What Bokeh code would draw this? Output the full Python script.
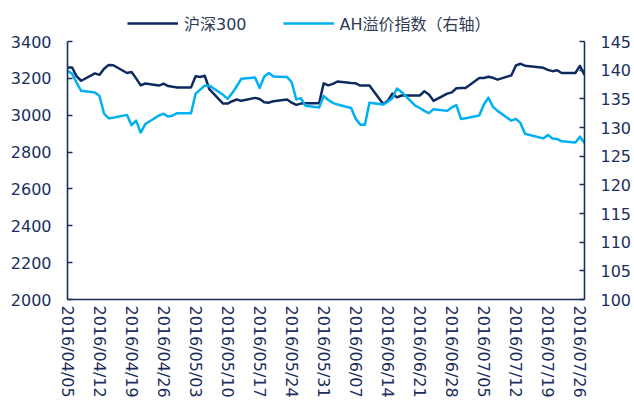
import pandas as pd
from bokeh.plotting import figure
from bokeh.models import (Range1d, LinearAxis, FixedTicker, DatetimeTickFormatter,
                          Legend, LegendItem, ColumnDataSource)
from bokeh.embed import file_html
from bokeh.resources import INLINE

dates = [
    "2016-04-05", "2016-04-06", "2016-04-07", "2016-04-08", "2016-04-11", "2016-04-12", "2016-04-13",
    "2016-04-14", "2016-04-15", "2016-04-18", "2016-04-19", "2016-04-20", "2016-04-21", "2016-04-22",
    "2016-04-25", "2016-04-26", "2016-04-27", "2016-04-28", "2016-04-29",
    "2016-05-02", "2016-05-03", "2016-05-04", "2016-05-05", "2016-05-06", "2016-05-09", "2016-05-10",
    "2016-05-11", "2016-05-12", "2016-05-13", "2016-05-16", "2016-05-17", "2016-05-18", "2016-05-19",
    "2016-05-20", "2016-05-23", "2016-05-24", "2016-05-25", "2016-05-26", "2016-05-27", "2016-05-30",
    "2016-05-31",
    "2016-06-01", "2016-06-02", "2016-06-03", "2016-06-06", "2016-06-07", "2016-06-08", "2016-06-09",
    "2016-06-10", "2016-06-13", "2016-06-14", "2016-06-15", "2016-06-16", "2016-06-17", "2016-06-20",
    "2016-06-21", "2016-06-22", "2016-06-23", "2016-06-24", "2016-06-27", "2016-06-28", "2016-06-29",
    "2016-06-30",
    "2016-07-01", "2016-07-04", "2016-07-05", "2016-07-06", "2016-07-07", "2016-07-08", "2016-07-11",
    "2016-07-12", "2016-07-13", "2016-07-14", "2016-07-15", "2016-07-18", "2016-07-19", "2016-07-20",
    "2016-07-21", "2016-07-22", "2016-07-25", "2016-07-26", "2016-07-27",
]

hs300 = [
    3259, 3259, 3211, 3187, 3227, 3219, 3252, 3273, 3271, 3229, 3235, 3200, 3162, 3172, 3161, 3171, 3158, 3154, 3151,
    3151, 3211, 3207, 3214, 3141, 3063, 3063, 3076, 3085, 3078, 3094, 3088, 3070, 3068, 3076, 3085, 3068, 3056, 3063,
    3065, 3065, 3173,
    3162, 3170, 3183, 3175, 3173, 3161, 3161, 3161, 3061, 3078, 3117, 3097, 3107, 3107, 3107, 3130, 3112, 3078,
    3117, 3124, 3146, 3148,
    3148, 3202, 3202, 3209, 3203, 3193, 3216, 3270, 3279, 3269, 3266, 3257, 3246, 3239, 3244, 3229, 3229, 3268, 3219,
]

ah_premium = [
    139.9, 139.4, 137.8, 136.4, 136.1, 135.5, 132.4, 131.6, 131.7, 132.2, 130.4, 131.2, 129.1, 130.6, 132.1, 132.4,
    131.9, 132.1, 132.5,
    132.5, 135.9, 136.6, 137.3, 137.3, 135.7, 135.0, 136.0, 137.2, 138.5, 138.7, 136.9, 138.9, 139.5, 138.9, 138.8,
    137.9, 134.9, 135.1, 133.8, 133.5, 135.5,
    134.8, 134.3, 134.0, 133.4, 131.5, 130.5, 130.5, 134.3, 134.0, 134.5, 135.1, 136.8, 136.2, 133.8, 133.4, 132.9,
    132.5, 133.2, 132.9, 133.5, 133.9, 131.5,
    131.6, 132.1, 134.0, 135.2, 133.6, 132.9, 131.2, 131.5, 130.8, 128.9, 128.7, 128.1, 128.7, 128.1, 128.0, 127.6,
    127.4, 128.4, 127.3,
]

tick_dates = [
    "2016-04-05", "2016-04-12", "2016-04-19", "2016-04-26", "2016-05-03", "2016-05-10", "2016-05-17",
    "2016-05-24", "2016-05-31", "2016-06-07", "2016-06-14", "2016-06-21", "2016-06-28", "2016-07-05",
    "2016-07-12", "2016-07-19", "2016-07-26",
]
left_ticks = [2000, 2200, 2400, 2600, 2800, 3000, 3200, 3400]
right_ticks = [100, 105, 110, 115, 120, 125, 130, 135, 140, 145]

NAVY = "#0E2A5E"
LIGHT = "#00B0F0"
AXIS = "#17305E"
LABEL = "#1B2F5C"
FONT = "DejaVu Sans"

W, H = 634, 405
BORDER_L, BORDER_R, BORDER_B = 67, 50, 106
FRAME_H = H - BORDER_B   # frame spans the full height above the x axis
AXIS_TOP = 41            # px from frame top where 3400 / 145 sit
AXIS_SPAN = FRAME_H - AXIS_TOP
left_top = 3400 + AXIS_TOP * (3400 - 2000) / AXIS_SPAN
right_top = 145 + AXIS_TOP * (145 - 100) / AXIS_SPAN

src = ColumnDataSource(dict(x=pd.to_datetime(dates), hs=hs300, ah=ah_premium))

p = figure(width=W, height=H, x_axis_type="datetime", output_backend="svg", toolbar_location=None,
           x_range=Range1d(pd.Timestamp("2016-04-05"), pd.Timestamp("2016-07-27")),
           y_range=Range1d(2000, left_top),
           min_border_left=BORDER_L, min_border_right=BORDER_R, min_border_top=0,
           min_border_bottom=BORDER_B)
p.extra_y_ranges = {"ah": Range1d(100, right_top)}
p.outline_line_color = None
p.xgrid.visible = False
p.ygrid.visible = False
p.background_fill_color = "white"
p.border_fill_color = "white"

r1 = p.line("x", "hs", source=src, line_color=NAVY, line_width=2.5, line_join="round")
r2 = p.line("x", "ah", source=src, y_range_name="ah", line_color=LIGHT, line_width=2.5, line_join="round")

right_axis = LinearAxis(y_range_name="ah")
p.add_layout(right_axis, "right")

ms_ticks = [int(pd.Timestamp(d).value // 10**6) for d in tick_dates]
xa = p.xaxis[0]
xa.ticker = FixedTicker(ticks=ms_ticks)
fmt = "%Y/%m/%d"
xa.formatter = DatetimeTickFormatter(days=fmt, months=fmt, years=fmt, hours=fmt, hourmin=fmt,
                                     minutes=fmt, minsec=fmt, seconds=fmt, milliseconds=fmt,
                                     microseconds=fmt)
xa.major_label_orientation = "vertical"
xa.major_tick_in = 0
xa.major_tick_out = 0
xa.minor_tick_line_color = None
xa.major_label_standoff = 6

la = p.yaxis[0]
la.ticker = FixedTicker(ticks=left_ticks)
la.bounds = (2000, 3400)
la.major_label_standoff = 16

right_axis.ticker = FixedTicker(ticks=right_ticks)
right_axis.bounds = (100, 145)
right_axis.major_label_standoff = 16

for ax in (xa, la, right_axis):
    ax.axis_line_color = AXIS
    ax.axis_line_width = 1.6
    ax.major_tick_line_color = AXIS
    ax.major_tick_line_width = 1.6
    ax.minor_tick_line_color = None
    ax.major_label_text_color = LABEL
    ax.major_label_text_font = FONT
    ax.major_label_text_font_size = "16px"
for ax in (la, right_axis):
    ax.major_tick_in = 5
    ax.major_tick_out = 0

legend = Legend(items=[LegendItem(label="沪深300", renderers=[r1]),
                       LegendItem(label="AH溢价指数（右轴）", renderers=[r2])],
                orientation="horizontal", location=(60, 264),
                border_line_color=None, background_fill_alpha=0,
                padding=0, margin=0, spacing=36, label_standoff=6,
                glyph_width=51, glyph_height=20, label_height=20,
                label_text_font="'DejaVu Sans', 'Noto Sans CJK SC'",
                label_text_font_size="16px", label_text_color="#2E3A52")
p.add_layout(legend)

open("out.html", "w").write(file_html(p, INLINE))
